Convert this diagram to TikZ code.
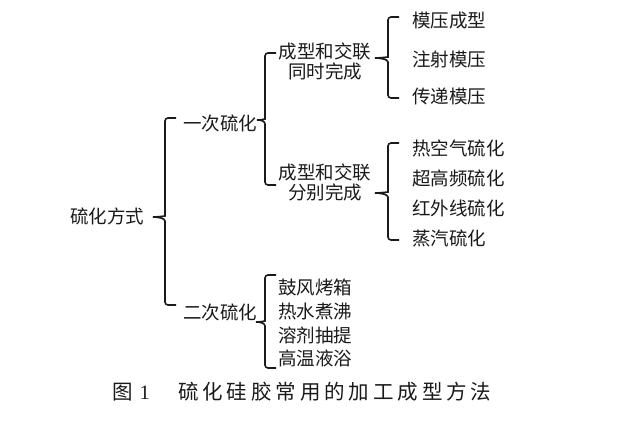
\documentclass[tikz,border=0pt]{standalone}
\usepackage{fontspec}
\setmainfont{Liberation Serif}
\newfontfamily\cjk{Noto Sans CJK SC}
\newfontfamily\cjkcap[LetterSpace=19]{Noto Sans CJK SC}
\usetikzlibrary{calc}
\definecolor{ink}{HTML}{1A1A1A}
% brace: #1 spine point at tip height, #2 rise to top arm, #3 drop to bottom arm, #4 tick length
\newcommand{\grpbrace}[4]{%
  \draw[brc] ($(#1)+(11,-#2)$) [rounded corners=3pt] -| ($(#1)+(0,-4)$) [sharp corners]
    .. controls +(0,3) and +(4,0) .. ++(-#4,4)
    .. controls +(4,0) and +(0,-3) .. ++(#4,4)
    [rounded corners=3pt] |- ($(#1)+(11,#3)$);}

\begin{document}
\begin{tikzpicture}[x=1pt, y=-1pt,
  lbl/.style={font=\cjk\fontsize{18.5}{20}\selectfont, text=ink, inner sep=0pt},
  captext/.style={font=\fontsize{20.5}{22}\selectfont, text=ink, inner sep=0pt, anchor=west},
  brc/.style={draw=ink, line width=1.6pt}
]
\fill[white] (0,0) rectangle (634,420);
\useasboundingbox (0,0) rectangle (634,420);
% tree labels
\node[lbl, anchor=west] (root)  at (70,216)  {硫化方式};
\node[lbl, anchor=west] (once)  at (183,123) {一次硫化};
\node[lbl, anchor=west] (twice) at (183,312) {二次硫化};
\node[lbl, align=center] (sim) at (325,61)  {成型和交联\\同时完成};
\node[lbl, align=center] (sep) at (325,182) {成型和交联\\分别完成};
\node[lbl, anchor=west] (mold)  at (412,21)  {模压成型};
\node[lbl, anchor=west] (inj)   at (412,59)  {注射模压};
\node[lbl, anchor=west] (trans) at (412,96)  {传递模压};
\node[lbl, anchor=west] (hot)   at (412,148) {热空气硫化};
\node[lbl, anchor=west] (uhf)   at (412,178) {超高频硫化};
\node[lbl, anchor=west] (ir)    at (412,208) {红外线硫化};
\node[lbl, anchor=west] (steam) at (412,238) {蒸汽硫化};
\node[lbl, anchor=west] (oven)  at (278,287) {鼓风烤箱};
\node[lbl, anchor=west] (boil)  at (278,311) {热水煮沸};
\node[lbl, anchor=west] (solv)  at (278,335) {溶剂抽提};
\node[lbl, anchor=west] (bath)  at (278,358) {高温液浴};
% brace spines
\coordinate (s1) at (165,217);
\coordinate (s2) at (265,120);
\coordinate (s3) at (388,58);
\coordinate (s4) at (388,193);
\coordinate (s5) at (265,322);
\grpbrace{s1}{99}{88}{12}
\grpbrace{s2}{67}{65}{8}
\grpbrace{s3}{41}{40}{13}
\grpbrace{s4}{50}{47}{13}
\grpbrace{s5}{47}{46}{9}
% caption
\node[captext] (capnum) at (112,392) {{\cjk 图}\hspace{7pt}1};
\node[captext] (captxt) at (178,392) {\cjkcap 硫化硅胶常用的加工成型方法};
\end{tikzpicture}
\end{document}
